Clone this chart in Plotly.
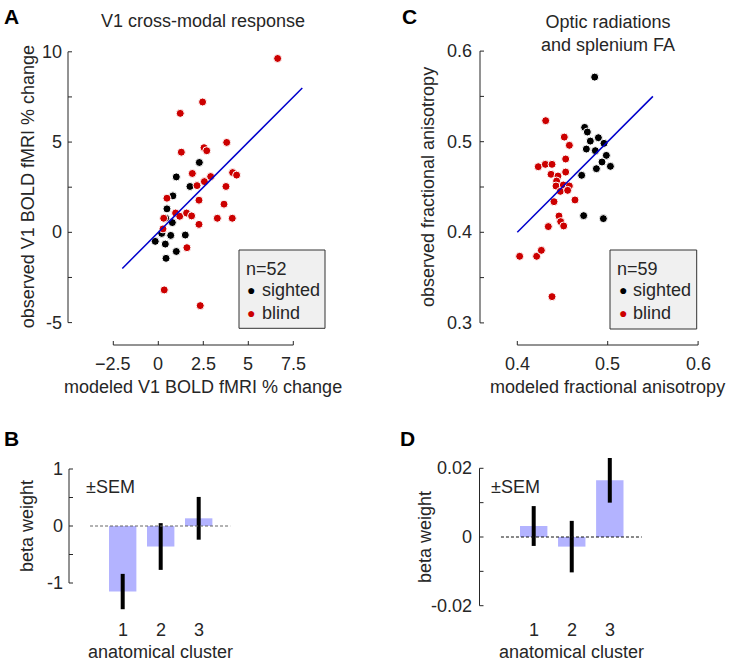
import plotly.graph_objects as go

W, H = 730, 663


def fx(p):
    return p / W


def fy(p):
    return 1 - p / H


# ---------------- data ----------------
a_sighted_x = [2.28, 1.00, 1.76, 0.81, 0.48, 0.41, 0.78, 0.19, -0.17, 0.69, 1.50, 0.39, 1.00, 0.43]
a_sighted_y = [3.87, 3.07, 2.54, 2.02, 1.30, 0.78, 0.54, -0.06, -0.50, -0.17, -0.15, -0.65, -1.06, -1.44]
a_blind_x = [6.63, 2.46, 1.22, 3.80, 2.54, 2.69, 1.28, 1.89, 2.91, 4.13, 4.35, 2.56, 2.15, 3.76, 0.48,
             2.26, 3.65, 0.96, 1.19, 1.57, 1.85, 0.30, 3.28, 4.11, 0.26, 2.26, 1.59, 0.33, 2.33]
a_blind_y = [9.63, 7.22, 6.59, 4.98, 4.69, 4.52, 4.44, 3.26, 3.09, 3.31, 3.17, 2.81, 2.59, 2.54, 1.89,
             1.78, 1.56, 1.07, 0.89, 1.07, 0.91, 0.78, 0.78, 0.78, 0.19, 0.44, -0.85, -3.19, -4.06]
a_fit = [-2, 8]

c_sighted_x = [0.4856, 0.4745, 0.4775, 0.4808, 0.4897, 0.4959, 0.4764, 0.4863, 0.4985, 0.4937, 0.5030,
               0.4875, 0.4712, 0.4734, 0.4952]
c_sighted_y = [0.5713, 0.5158, 0.5107, 0.5007, 0.5044, 0.4982, 0.4919, 0.4901, 0.4849, 0.4776, 0.4728,
               0.4702, 0.4629, 0.4184, 0.4151]
c_blind_x = [0.4314, 0.4520, 0.4576, 0.4232, 0.4310, 0.4384, 0.4535, 0.4373, 0.4450, 0.4535, 0.4435,
             0.4428, 0.4509, 0.4576, 0.4476, 0.4557, 0.4406, 0.4638, 0.4461, 0.4480, 0.4513, 0.4343,
             0.4026, 0.4214, 0.4266, 0.4384]
c_blind_y = [0.5232, 0.5051, 0.4960, 0.4724, 0.4750, 0.4750, 0.4809, 0.4640, 0.4621, 0.4665, 0.4566,
             0.4511, 0.4522, 0.4511, 0.4452, 0.4463, 0.4338, 0.4357, 0.4180, 0.4118, 0.4070, 0.4063,
             0.3735, 0.3735, 0.3801, 0.3290]
c_fit = [0.40, 0.55]

clusters = [1, 2, 3]
b_means = [-1.15, -0.36, 0.135]
b_sem = [0.31, 0.41, 0.375]
d_means = [0.0032, -0.0028, 0.0165]
d_sem = [0.0058, 0.0075, 0.0065]

a_n, c_n = 52, 59

a_xticks = [-2.5, 0, 2.5, 5, 7.5]
a_xtext = ["\u22122.5", "0", "2.5", "5", "7.5"]
a_yticks = [-5, -2.5, 0, 2.5, 5, 7.5, 10]
a_ytext = ["-5", "", "0", "", "5", "", "10"]
c_xticks = [0.4, 0.5, 0.6]
c_xtext = ["0.4", "0.5", "0.6"]
c_yticks = [0.3, 0.35, 0.4, 0.45, 0.5, 0.55, 0.6]
c_ytext = ["0.3", "", "0.4", "", "0.5", "", "0.6"]
b_yticks = [-1, -0.5, 0, 0.5, 1]
b_ytext = ["-1", "", "0", "", "1"]
d_yticks = [-0.02, -0.01, 0, 0.01, 0.02]
d_ytext = ["-0.02", "", "0", "", "0.02"]
cluster_text = ["1", "2", "3"]

# ---------------- style ----------------
FONT = "Liberation Sans, Arial, Helvetica, sans-serif"
TXT = "#262626"
RED = "#cc0000"
BLK = "#000000"
BLUE = "#0000cc"
BAR = "#b3b3ff"
FS = 18
TICKLEN = 4


class Scale:
    """linear map between data values and page pixels"""

    def __init__(self, v0, p0, v1, p1):
        self.v0, self.p0 = v0, p0
        self.k = (p1 - p0) / (v1 - v0)

    def __call__(self, v):
        return self.p0 + (v - self.v0) * self.k

    def inv(self, p):
        return self.v0 + (p - self.p0) / self.k


# pixel geometry of each panel
A_X = Scale(-2.5, 113.3, 7.5, 293.3)
A_Y = Scale(-5, 322.6, 10, 51.8)
C_X = Scale(0.4, 517.3, 0.6, 698.1)
C_Y = Scale(0.3, 322.9, 0.6, 51.1)
B_X = Scale(1, 122.7, 3, 198.7)
B_Y = Scale(-1, 583.0, 1, 469.0)
D_X = Scale(1, 533.7, 3, 609.8)
D_Y = Scale(-0.02, 605.7, 0.02, 468.3)


def xaxis(s, p_lo, p_hi):
    return dict(domain=[fx(p_lo), fx(p_hi)], range=[s.inv(p_lo), s.inv(p_hi)],
                visible=False, showgrid=False, zeroline=False, anchor="free", position=0)


def yaxis(s, p_bottom, p_top):
    return dict(domain=[fy(p_bottom), fy(p_top)], range=[s.inv(p_bottom), s.inv(p_top)],
                visible=False, showgrid=False, zeroline=False, anchor="free", position=0)


fig = go.Figure()


def scatter(x, y, color, xa, ya):
    fig.add_trace(go.Scatter(x=x, y=y, mode="markers", xaxis=xa, yaxis=ya,
                             marker=dict(size=8, color=color, line=dict(color="white", width=1)),
                             cliponaxis=False, showlegend=False, hoverinfo="skip"))


scatter(a_sighted_x, a_sighted_y, BLK, "x", "y")
scatter(a_blind_x, a_blind_y, RED, "x", "y")
fig.add_trace(go.Scatter(x=a_fit, y=a_fit, mode="lines", xaxis="x", yaxis="y",
                         line=dict(color=BLUE, width=1.5), showlegend=False))
scatter(c_sighted_x, c_sighted_y, BLK, "x2", "y2")
scatter(c_blind_x, c_blind_y, RED, "x2", "y2")
fig.add_trace(go.Scatter(x=c_fit, y=c_fit, mode="lines", xaxis="x2", yaxis="y2",
                         line=dict(color=BLUE, width=1.5), showlegend=False))


def bars(means, sem, xa, ya):
    fig.add_trace(go.Bar(x=clusters, y=means, width=0.72, xaxis=xa, yaxis=ya,
                         marker=dict(color=BAR, line=dict(width=0)),
                         error_y=dict(type="data", array=sem, visible=True, thickness=4,
                                      width=0, color="black"),
                         showlegend=False))


bars(b_means, b_sem, "x3", "y3")
bars(d_means, d_sem, "x4", "y4")

fig.update_layout(
    width=W, height=H, margin=dict(l=0, r=0, t=0, b=0, pad=0),
    paper_bgcolor="white", plot_bgcolor="rgba(0,0,0,0)",
    font=dict(family=FONT, size=FS, color=TXT),
    showlegend=False, barmode="overlay",
    xaxis=xaxis(A_X, 100, 340), yaxis=yaxis(A_Y, 335, 40),
    xaxis2=xaxis(C_X, 500, 712), yaxis2=yaxis(C_Y, 335, 40),
    xaxis3=xaxis(B_X, 88, 240), yaxis3=yaxis(B_Y, 622, 455),
    xaxis4=xaxis(D_X, 495, 665), yaxis4=yaxis(D_Y, 622, 450),
)

shapes = []
ann = []
spine = dict(color=TXT, width=1)


def pline(x0, y0, x1, y1, line):
    shapes.append(dict(type="line", xref="paper", yref="paper", x0=fx(x0), y0=fy(y0),
                       x1=fx(x1), y1=fy(y1), line=line))


def text(x, y, s, size=FS, xanchor="center", yanchor="middle", angle=0, bold=False, color=TXT):
    ann.append(dict(xref="paper", yref="paper", x=fx(x), y=fy(y), text=("<b>%s</b>" % s) if bold else s,
                    showarrow=False, xanchor=xanchor, yanchor=yanchor, textangle=angle,
                    borderpad=0, font=dict(family=FONT, size=size, color=color)))


def x_axis(s, ticks, labels, ypos, label_y):
    pline(s(ticks[0]), ypos, s(ticks[-1]), ypos, spine)
    for v, t in zip(ticks, labels):
        pline(s(v), ypos, s(v), ypos - TICKLEN, spine)
        if t:
            text(s(v), label_y, t)


def y_axis(s, ticks, labels, xpos, gap):
    pline(xpos, s(ticks[0]), xpos, s(ticks[-1]), spine)
    for v, t in zip(ticks, labels):
        pline(xpos, s(v), xpos + TICKLEN, s(v), spine)
        if t:
            text(xpos - gap, s(v), t, xanchor="right")


# axes
x_axis(A_X, a_xticks, a_xtext, 345, 364)
y_axis(A_Y, a_yticks, a_ytext, 68, 5)
x_axis(C_X, c_xticks, c_xtext, 345, 364)
y_axis(C_Y, c_yticks, c_ytext, 480, 7)
y_axis(B_Y, b_yticks, b_ytext, 69, 5)
y_axis(D_Y, d_yticks, d_ytext, 479.5, 7)
for v, t in zip(clusters, cluster_text):
    text(B_X(v), 630, t)
    text(D_X(v), 630, t)

# zero lines
pline(B_X(0.14), B_Y(0), B_X(3.83), B_Y(0), dict(color="#666666", width=1, dash="3px,2px"))
pline(D_X(0.14), D_Y(0), D_X(3.84), D_Y(0), dict(color="#111111", width=1, dash="3px,2px"))

# legend boxes
for (x0, x1, y0, y1) in [(239, 325, 250, 328.3), (610, 696.7, 250, 329)]:
    shapes.append(dict(type="rect", xref="paper", yref="paper", x0=fx(x0), x1=fx(x1),
                       y0=fy(y1), y1=fy(y0), fillcolor="#f0f0f0",
                       line=dict(color="#333333", width=1), layer="below"))
for (bx, n, dotx, tx) in [(245, a_n, 251, 261), (616.3, c_n, 623, 631.5)]:
    text(bx, 268.5, "n=%d" % n, xanchor="left")
    text(dotx, 290, "\u25cf", size=14, color=BLK)
    text(tx, 290, "sighted", xanchor="left")
    text(dotx, 312.5, "\u25cf", size=14, color=RED)
    text(tx, 312.5, "blind", xanchor="left")

# panel letters
text(3, 16, "A", size=21, xanchor="left", bold=True, color="black")
text(401, 16, "C", size=21, xanchor="left", bold=True, color="black")
text(3, 438, "B", size=21, xanchor="left", bold=True, color="black")
text(399, 438, "D", size=21, xanchor="left", bold=True, color="black")
# titles
text(A_X(2.5), 21, "V1 cross-modal response")
text(C_X(0.5), 33, "Optic radiations<br>and splenium FA")
# axis labels
text(A_X(2.5), 387, "modeled V1 BOLD fMRI % change")
text(28, A_Y(2.5), "observed V1 BOLD fMRI % change", angle=-90)
text(C_X(0.5), 387, "modeled fractional anisotropy")
text(428, C_Y(0.45), "observed fractional anisotropy", angle=-90)
text(27, B_Y(0), "beta weight", angle=-90)
text(425, D_Y(0), "beta weight", angle=-90)
text(B_X(2), 663, "anatomical cluster", yanchor="bottom")
text(D_X(2), 663, "anatomical cluster", yanchor="bottom")
text(85, 487, "\u00b1SEM", xanchor="left")
text(490, 487, "\u00b1SEM", xanchor="left")

fig.update_layout(shapes=shapes, annotations=ann)
fig.write_html("out.html", config={"displayModeBar": False},
               post_script="document.body.style.margin='0';")
